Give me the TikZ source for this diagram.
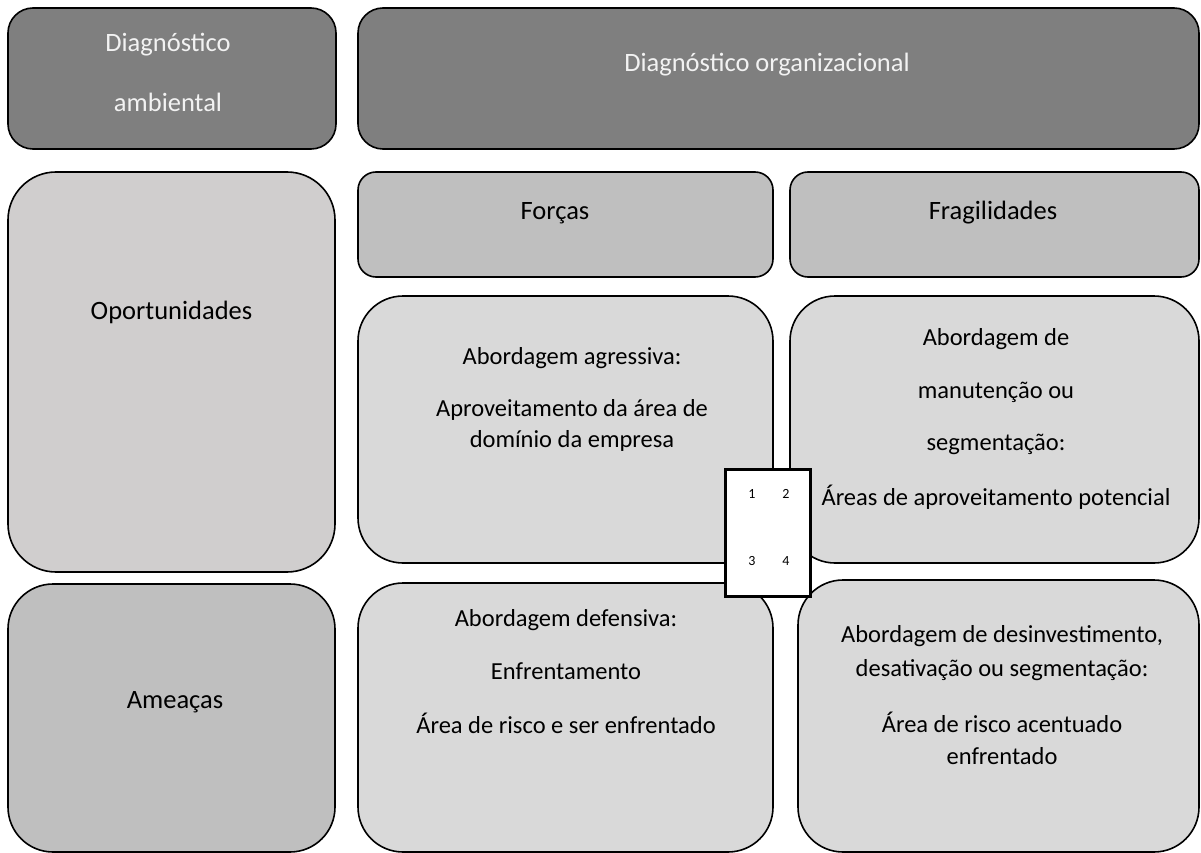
\documentclass[tikz,border=0pt]{standalone}
\usepackage{fontspec}
\setmainfont{Carlito}
\definecolor{hdr}{HTML}{7F7F7F}
\definecolor{oport}{HTML}{D0CECE}
\definecolor{midg}{HTML}{BFBFBF}
\definecolor{lite}{HTML}{D9D9D9}
\definecolor{hdrtxt}{HTML}{F2F2F2}
\begin{document}
\begin{tikzpicture}[x=1pt,y=-1pt,
  box/.style={draw=black, line width=1.6pt, inner sep=0pt},
  big/.style={font=\fontsize{26.5}{30}\selectfont},
  body/.style={font=\fontsize{24.5}{28}\selectfont, inner sep=0pt},
  num/.style={font=\fontsize{14}{16}\selectfont, inner sep=0pt}]
\useasboundingbox (0,0) rectangle (1201,853);
% header row
\node[box, fill=hdr, rounded corners=25pt, minimum width=328pt, minimum height=141pt] (amb) at (172,78.5) {};
\node[box, fill=hdr, rounded corners=25pt, minimum width=841pt, minimum height=141pt] (org) at (778.5,78.5) {};
\node[big, text=hdrtxt] (ambA) at (168,45) {Diagnóstico};
\node[big, text=hdrtxt] (ambB) at (168,102) {ambiental};
\node[big, text=hdrtxt] (orgT) at (767,65) {Diagnóstico organizacional};
% left column
\node[box, fill=oport, rounded corners=48pt, minimum width=327pt, minimum height=400pt] (op) at (171.5,372) {};
\node[box, fill=midg, rounded corners=45pt, minimum width=327pt, minimum height=268pt] (am) at (171.5,718) {};
\node[big] (opT) at (171.5,312) {Oportunidades};
\node[big] (amT) at (175,702) {Ameaças};
% second row
\node[box, fill=midg, rounded corners=18pt, minimum width=415pt, minimum height=105pt] (for) at (565.5,224.5) {};
\node[box, fill=midg, rounded corners=18pt, minimum width=409pt, minimum height=105pt] (fra) at (994.5,224.5) {};
\node[big] (forT) at (555,213) {Forças};
\node[big] (fraT) at (993,213) {Fragilidades};
% strategy boxes
\node[box, fill=lite, rounded corners=45pt, minimum width=415pt, minimum height=267pt] (agr) at (565.5,429.5) {};
\node[box, fill=lite, rounded corners=45pt, minimum width=409pt, minimum height=267pt] (man) at (994.5,429.5) {};
\node[box, fill=lite, rounded corners=45pt, minimum width=415pt, minimum height=269pt] (def) at (565.5,717.5) {};
\node[box, fill=lite, rounded corners=45pt, minimum width=401pt, minimum height=272pt] (des) at (998.5,716) {};
% texts
\node[body] (agr1) at (572,358) {Abordagem agressiva:};
\node[body] (agr2) at (572,410) {Aproveitamento da área de};
\node[body] (agr3) at (572,441) {domínio da empresa};
\node[body] (man1) at (996,339) {Abordagem de};
\node[body] (man2) at (996,392) {manutenção ou};
\node[body] (man3) at (996,444) {segmentação:};
\node[body] (man4) at (996,497) {Áreas de aproveitamento potencial};
\node[body] (def1) at (566,620) {Abordagem defensiva:};
\node[body] (def2) at (566,671) {Enfrentamento};
\node[body] (def3) at (566,723) {Área de risco e ser enfrentado};
\node[body] (des1) at (1002,636) {Abordagem de desinvestimento,};
\node[body] (des2) at (1002,670) {desativação ou segmentação:};
\node[body] (des3) at (1002,722) {Área de risco acentuado};
\node[body] (des4) at (1002,756) {enfrentado};
% centre key
\node[draw=black, line width=2.6pt, fill=white, minimum width=85pt, minimum height=127pt, inner sep=0pt] (mid) at (768,533) {};
\node[num] (n1) at (752,494) {1};
\node[num] (n2) at (786,494) {2};
\node[num] (n3) at (752,561) {3};
\node[num] (n4) at (786,561) {4};
\end{tikzpicture}
\end{document}
